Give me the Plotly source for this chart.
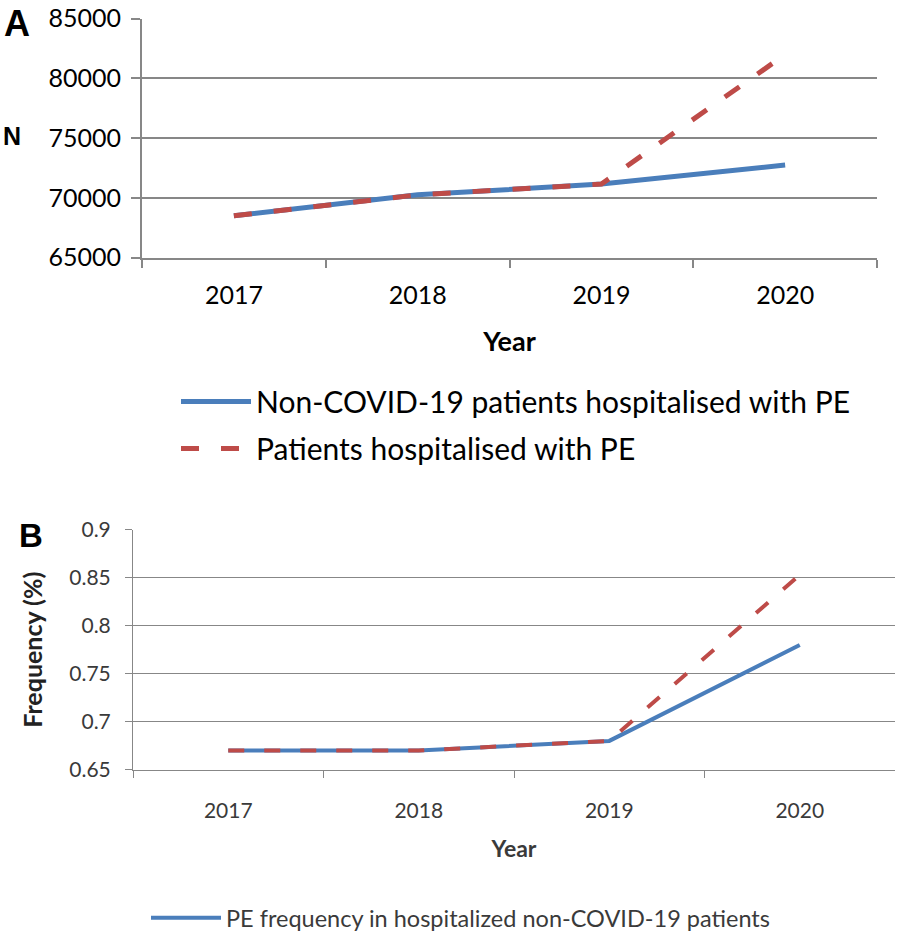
import plotly.graph_objects as go

years = ["2017", "2018", "2019", "2020"]
non_covid_pe = [68500, 70250, 71150, 72750]
all_pe = [68500, 70250, 71150, 82000]
freq_non_covid = [0.670, 0.670, 0.680, 0.780]
freq_all = [0.670, 0.670, 0.680, 0.853]

blue = "#4A7EBB"
red = "#BE4B48"
grid = "#878787"
textB = "#3a3a3a"

fig = go.Figure()
fig.add_trace(go.Scatter(x=years, y=non_covid_pe, mode="lines",
                         name="Non-COVID-19 patients hospitalised with PE", legendgroup="a1",
                         line=dict(color=blue, width=5), xaxis="x", yaxis="y", legend="legend"))
fig.add_trace(go.Scatter(x=years, y=all_pe, mode="lines",
                         name="Patients hospitalised with PE", legendgroup="a2",
                         line=dict(color=red, width=5, dash="18px,22px"), xaxis="x", yaxis="y", legend="legend"))
fig.add_trace(go.Scatter(x=years, y=freq_non_covid, mode="lines",
                         name="PE frequency in hospitalized non-COVID-19 patients",
                         line=dict(color=blue, width=4), xaxis="x2", yaxis="y2", legend="legend2"))
fig.add_trace(go.Scatter(x=years, y=freq_all, mode="lines",
                         name="PE frequency in all hospitalized patients", showlegend=False,
                         line=dict(color=red, width=4, dash="16px,20px"), xaxis="x2", yaxis="y2", legend="legend2"))

W, H = 904, 940
SY = 0.987  # small vertical correction observed in the rendered picture
def px_x(p): return p / W
def px_y(p): return 1 - (p / SY) / H

fig.update_layout(
    width=W, height=H, margin=dict(l=0, r=0, t=0, b=0),
    paper_bgcolor="white", plot_bgcolor="white",
    xaxis=dict(domain=[px_x(142), px_x(877)], anchor="y", type="category", automargin=False,
               range=[-0.5, 3.5], tickson="boundaries", ticks="outside", ticklen=8,
               tickwidth=2, tickcolor=grid, showline=True, linecolor=grid, linewidth=2,
               showgrid=False, ticklabelstandoff=14,
               tickfont=dict(family="Lato", size=25, color="black"),
               title=dict(text="<b>Year</b>", font=dict(family="Lato", size=27, color="black"),
                          standoff=25)),
    yaxis=dict(domain=[px_y(262), px_y(19)], anchor="x", range=[65000, 85000], dtick=5000,
               tickformat="d", automargin=False, ticklabeloverflow="allow",
               ticks="outside", ticklen=9, tickwidth=2, tickcolor=grid, ticklabelstandoff=5,
               showline=True, linecolor=grid, linewidth=2, showgrid=True, gridcolor=grid,
               gridwidth=2, zeroline=False,
               tickfont=dict(family="Lato", size=25, color="black")),
    xaxis2=dict(domain=[px_x(133), px_x(895)], anchor="y2", type="category", automargin=False,
                range=[-0.5, 3.5], tickson="boundaries", ticks="outside", ticklen=7,
                tickwidth=1, tickcolor=grid, showline=True, linecolor=grid, linewidth=1,
                showgrid=False, ticklabelstandoff=22,
                tickfont=dict(family="Lato", size=21, color=textB),
                title=dict(text="<b>Year</b>", font=dict(family="Lato", size=23, color=textB),
                           standoff=20)),
    yaxis2=dict(domain=[px_y(783), px_y(539)], anchor="x2", range=[0.65, 0.9], dtick=0.05,
                automargin=False, ticklabeloverflow="allow",
                ticks="outside", ticklen=7, tickwidth=1, tickcolor=grid, ticklabelstandoff=10,
                showline=True, linecolor=grid, linewidth=1, showgrid=True, gridcolor=grid,
                gridwidth=1, zeroline=False,
                tickfont=dict(family="Lato", size=21, color=textB)),
    legend=dict(x=px_x(176), y=px_y(382), xanchor="left", yanchor="top",
                font=dict(family="Lato", size=30, color="black"), tracegroupgap=5,
                traceorder="grouped", itemwidth=70, bgcolor="rgba(0,0,0,0)"),
    legend2=dict(x=px_x(146), y=px_y(912), xanchor="left", yanchor="top",
                 font=dict(family="Lato", size=23.5, color=textB),
                 itemwidth=70, bgcolor="rgba(0,0,0,0)"),
    showlegend=True,
    annotations=[
        dict(text="<b>A</b>", x=px_x(17), y=px_y(24), xref="paper", yref="paper",
             xanchor="center", yanchor="middle", showarrow=False,
             font=dict(family="Liberation Sans", size=36, color="black")),
        dict(text="<b>N</b>", x=px_x(12), y=px_y(138), xref="paper", yref="paper",
             xanchor="center", yanchor="middle", showarrow=False,
             font=dict(family="Liberation Sans", size=25, color="black")),
        dict(text="<b>B</b>", x=px_x(31), y=px_y(545), xref="paper", yref="paper",
             xanchor="center", yanchor="middle", showarrow=False,
             font=dict(family="Liberation Sans", size=33, color="black")),
        dict(text="<b>Frequency (%)</b>", x=px_x(32), y=px_y(661), xref="paper", yref="paper",
             xanchor="center", yanchor="middle", showarrow=False, textangle=-90,
             font=dict(family="Lato", size=25, color="#222222")),
    ],
)

fig.write_html("out.html", config={"displayModeBar": False},
               post_script="document.body.style.margin='0';document.body.style.overflow='hidden';")
